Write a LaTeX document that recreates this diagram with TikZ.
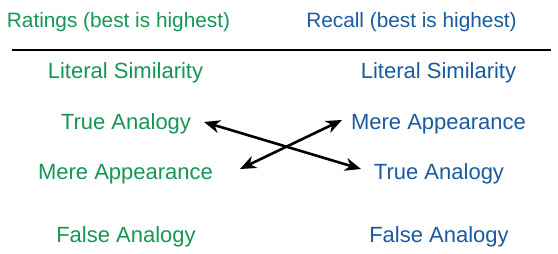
\documentclass[tikz,border=0pt]{standalone}
\usepackage{fontspec}
\setmainfont{Liberation Sans}
\usetikzlibrary{arrows.meta}
\definecolor{rgreen}{RGB}{20,150,85}
\definecolor{rblue}{RGB}{25,90,160}
\tikzset{
  lbl/.style={inner sep=0pt, anchor=base, font=\fontsize{22}{26}\selectfont},
  hdr/.style={inner sep=0pt, anchor=base, font=\fontsize{20.8}{24}\selectfont},
  gl/.style={lbl, text=rgreen},
  bl/.style={lbl, text=rblue},
  dbl/.style={{Stealth[length=16pt,width=13pt,inset=5pt]}-{Stealth[length=16pt,width=13pt,inset=5pt]}, line width=2.6pt, black}
}
\begin{document}
\begin{tikzpicture}[x=1pt,y=-1pt]
\useasboundingbox (0,0) rectangle (558,254);
\node[hdr, text=rgreen] (hl) at (118.5,28) {Ratings (best is highest)};
\node[hdr, text=rblue] (hr) at (411.5,28) {Recall (best is highest)};
\coordinate (la) at (12,50);
\coordinate (lb) at (551,50);
\draw[line width=2.8pt] (la) -- (lb);
\node[gl] (l1) at (125.5,79) {Literal Similarity};
\node[gl] (l2) at (126,129.5) {True Analogy};
\node[gl] (l3) at (125.5,179) {Mere Appearance};
\node[gl] (l4) at (126,243) {False Analogy};
\node[bl] (r1) at (438.5,79) {Literal Similarity};
\node[bl] (r2) at (438.5,129.5) {Mere Appearance};
\node[bl] (r3) at (439,179) {True Analogy};
\node[bl] (r4) at (439,243) {False Analogy};
\coordinate (a1s) at (204,122);
\coordinate (a1e) at (361,169);
\coordinate (a2s) at (240,169);
\coordinate (a2e) at (342,120);
\draw[dbl] (a1s) -- (a1e);
\draw[dbl] (a2s) -- (a2e);
\end{tikzpicture}
\end{document}
